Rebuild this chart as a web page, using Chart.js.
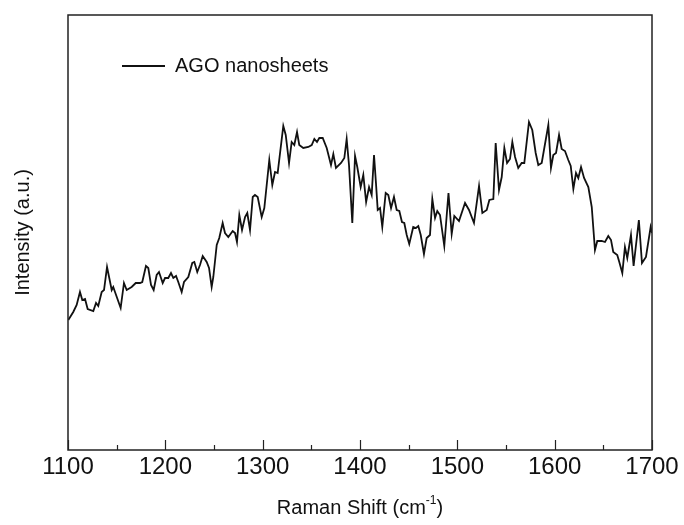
<!DOCTYPE html>
<html>
<head>
<meta charset="utf-8">
<script src="https://cdn.jsdelivr.net/npm/chart.js@4"></script>
<style>
  html, body { margin: 0; padding: 0; background: #fff; }
  #wrap { width: 684px; height: 525px; }
</style>
</head>
<body>
<div id="wrap"><canvas id="ramanChart" width="684" height="525"></canvas></div>
<script>
// Raman spectrum, values (arbitrary units)
const shift = [
  1100.3, 1105.4, 1108.9, 1112.3, 1114.7, 1117.5, 1120.2, 1126.0, 1128.8, 1131.1,
  1134.6, 1137.0, 1140.1, 1142.4, 1144.9, 1146.5, 1148.3, 1154.1, 1157.5, 1160.3,
  1165.4, 1169.6, 1174.0, 1176.3, 1180.1, 1182.5, 1185.3, 1188.0, 1191.1, 1193.5,
  1197.3, 1199.7, 1203.0, 1205.8, 1208.2, 1211.0, 1213.3, 1216.8, 1219.2, 1223.6,
  1227.7, 1229.8, 1232.8, 1235.6, 1238.4, 1242.5, 1244.9, 1247.6, 1249.3, 1252.8,
  1255.4, 1258.9, 1261.3, 1264.7, 1269.2, 1271.6, 1273.6, 1276.0, 1278.8, 1281.9,
  1284.2, 1287.0, 1289.8, 1292.1, 1294.9, 1299.0, 1301.7, 1306.8, 1309.9, 1312.7,
  1315.4, 1321.2, 1323.7, 1327.1, 1329.8, 1332.5, 1335.3, 1337.6, 1341.7, 1346.9,
  1350.4, 1353.1, 1355.8, 1358.2, 1361.7, 1365.8, 1370.2, 1372.6, 1375.3, 1380.5,
  1383.9, 1386.3, 1388.7, 1392.1, 1394.9, 1397.2, 1400.7, 1403.4, 1406.3, 1409.3,
  1412.0, 1414.4, 1416.4, 1418.2, 1420.6, 1422.9, 1426.4, 1429.1, 1431.9, 1434.9,
  1437.7, 1440.4, 1443.1, 1445.5, 1448.0, 1450.6, 1454.7, 1457.5, 1459.9, 1462.4,
  1465.7, 1468.5, 1471.9, 1474.3, 1477.1, 1479.4, 1482.2, 1486.6, 1490.9, 1494.2,
  1496.9, 1501.7, 1507.9, 1512.0, 1517.1, 1522.3, 1525.7, 1530.2, 1532.9, 1537.0,
  1539.4, 1542.8, 1545.6, 1548.3, 1551.1, 1554.1, 1556.5, 1559.3, 1562.6, 1566.1,
  1568.8, 1573.6, 1577.0, 1580.5, 1583.2, 1586.7, 1589.0, 1593.5, 1596.2, 1598.6,
  1601.4, 1604.5, 1607.2, 1610.6, 1614.0, 1616.5, 1619.2, 1621.9, 1624.3, 1627.1,
  1630.2, 1634.6, 1638.1, 1641.4, 1643.8, 1648.3, 1651.7, 1655.1, 1657.9, 1660.2,
  1664.3, 1666.4, 1669.5, 1672.2, 1674.6, 1678.4, 1681.1, 1686.5, 1689.7, 1693.8,
  1698.6, 1700.0
];
const intensity = [
  130, 138, 145, 158, 150, 151, 141, 139, 147, 144,
  158, 160, 183, 172, 160, 163, 158, 142, 167, 160,
  163, 167, 167, 168, 184, 182, 165, 160, 175, 178,
  167, 172, 172, 177, 172, 174, 168, 158, 168, 173,
  187, 188, 178, 185, 194, 188, 182, 163, 173, 205,
  212, 227, 217, 213, 219, 217, 208, 235, 220, 233,
  237, 220, 253, 255, 253, 233, 242, 290, 265, 278,
  277, 324, 315, 287, 308, 305, 318, 305, 302, 303,
  305, 311, 308, 312, 312, 302, 285, 296, 282, 287,
  292, 311, 285, 227, 294, 283, 263, 275, 248, 263,
  255, 295, 267, 240, 242, 223, 257, 255, 242, 253,
  240, 239, 228, 227, 215, 206, 223, 222, 224, 215,
  196, 212, 215, 251, 232, 239, 235, 204, 257, 216,
  234, 229, 247, 240, 227, 264, 237, 240, 250, 251,
  307, 260, 273, 302, 287, 291, 308, 293, 282, 287,
  287, 328, 320, 297, 285, 287, 300, 325, 282, 295,
  297, 315, 301, 299, 290, 284, 261, 277, 272, 283,
  272, 263, 243, 200, 209, 209, 208, 214, 210, 198,
  195, 188, 177, 203, 192, 215, 184, 230, 187, 193,
  223, 217
];
const xTicks = [1100, 1200, 1300, 1400, 1500, 1600, 1700];
const seriesName = 'AGO nanosheets';

const FONT = '"Liberation Sans", Arial, sans-serif';

// frame, inward ticks, axis titles and legend
const decor = {
  id: 'decor',
  afterDraw(chart) {
    const { ctx, chartArea: a, scales } = chart;
    const x = scales.x;
    ctx.save();
    ctx.strokeStyle = '#222';
    ctx.lineWidth = 1.5;
    ctx.strokeRect(a.left, a.top, a.right - a.left, a.bottom - a.top);

    ctx.lineWidth = 1.2;
    for (let v = 1100; v <= 1700; v += 50) {
      const px = Math.round(x.getPixelForValue(v)) + 0.5;
      const len = xTicks.includes(v) ? 10 : 5;
      ctx.beginPath();
      ctx.moveTo(px, a.bottom);
      ctx.lineTo(px, a.bottom - len);
      ctx.stroke();
    }

    ctx.fillStyle = '#111';
    // x title with superscript
    ctx.textBaseline = 'alphabetic';
    const t1 = 'Raman Shift (cm', t2 = '-1', t3 = ')';
    ctx.font = '20px ' + FONT;
    const w1 = ctx.measureText(t1).width, w3 = ctx.measureText(t3).width;
    ctx.font = '12px ' + FONT;
    const w2 = ctx.measureText(t2).width;
    const cx = (a.left + a.right) / 2;
    const sx = cx - (w1 + w2 + w3) / 2;
    const by = 514;
    ctx.textAlign = 'left';
    ctx.font = '20px ' + FONT;
    ctx.fillText(t1, sx, by);
    ctx.font = '12px ' + FONT;
    ctx.fillText(t2, sx + w1, by - 10);
    ctx.font = '20px ' + FONT;
    ctx.fillText(t3, sx + w1 + w2, by);

    // y title
    ctx.save();
    ctx.translate(23, (a.top + a.bottom) / 2);
    ctx.rotate(-Math.PI / 2);
    ctx.textAlign = 'center';
    ctx.textBaseline = 'middle';
    ctx.font = '20px ' + FONT;
    ctx.fillText('Intensity (a.u.)', 0, 0);
    ctx.restore();

    // legend
    const ds = chart.data.datasets[0];
    ctx.strokeStyle = ds.borderColor;
    ctx.lineWidth = ds.borderWidth;
    ctx.beginPath();
    ctx.moveTo(122, 66);
    ctx.lineTo(165, 66);
    ctx.stroke();
    ctx.font = '20px ' + FONT;
    ctx.textAlign = 'left';
    ctx.textBaseline = 'middle';
    ctx.fillText(ds.label, 175, 66);
    ctx.restore();
  }
};

new Chart(document.getElementById('ramanChart'), {
  type: 'line',
  data: {
    datasets: [{
      label: seriesName,
      data: shift.map((s, i) => ({ x: s, y: intensity[i] })),
      borderColor: '#111',
      borderWidth: 1.8,
      pointRadius: 0,
      tension: 0,
      fill: false
    }]
  },
  options: {
    responsive: false,
    animation: false,
    layout: { padding: { top: 15, right: 32, left: 0, bottom: 0 } },
    plugins: { legend: { display: false }, tooltip: { enabled: false } },
    scales: {
      x: {
        type: 'linear',
        min: 1100,
        max: 1700,
        afterFit: s => { s.height = 75; },
        grid: { display: false, drawTicks: false },
        border: { display: false },
        ticks: {
          stepSize: 100,
          padding: 3,
          color: '#111',
          font: { family: FONT, size: 24 },
          callback: v => xTicks.includes(v) ? String(v) : ''
        }
      },
      y: {
        min: 0,
        max: 435,
        afterFit: s => { s.width = 68; },
        grid: { display: false, drawTicks: false },
        border: { display: false },
        ticks: { display: false }
      }
    }
  },
  plugins: [decor]
});
</script>
</body>
</html>
